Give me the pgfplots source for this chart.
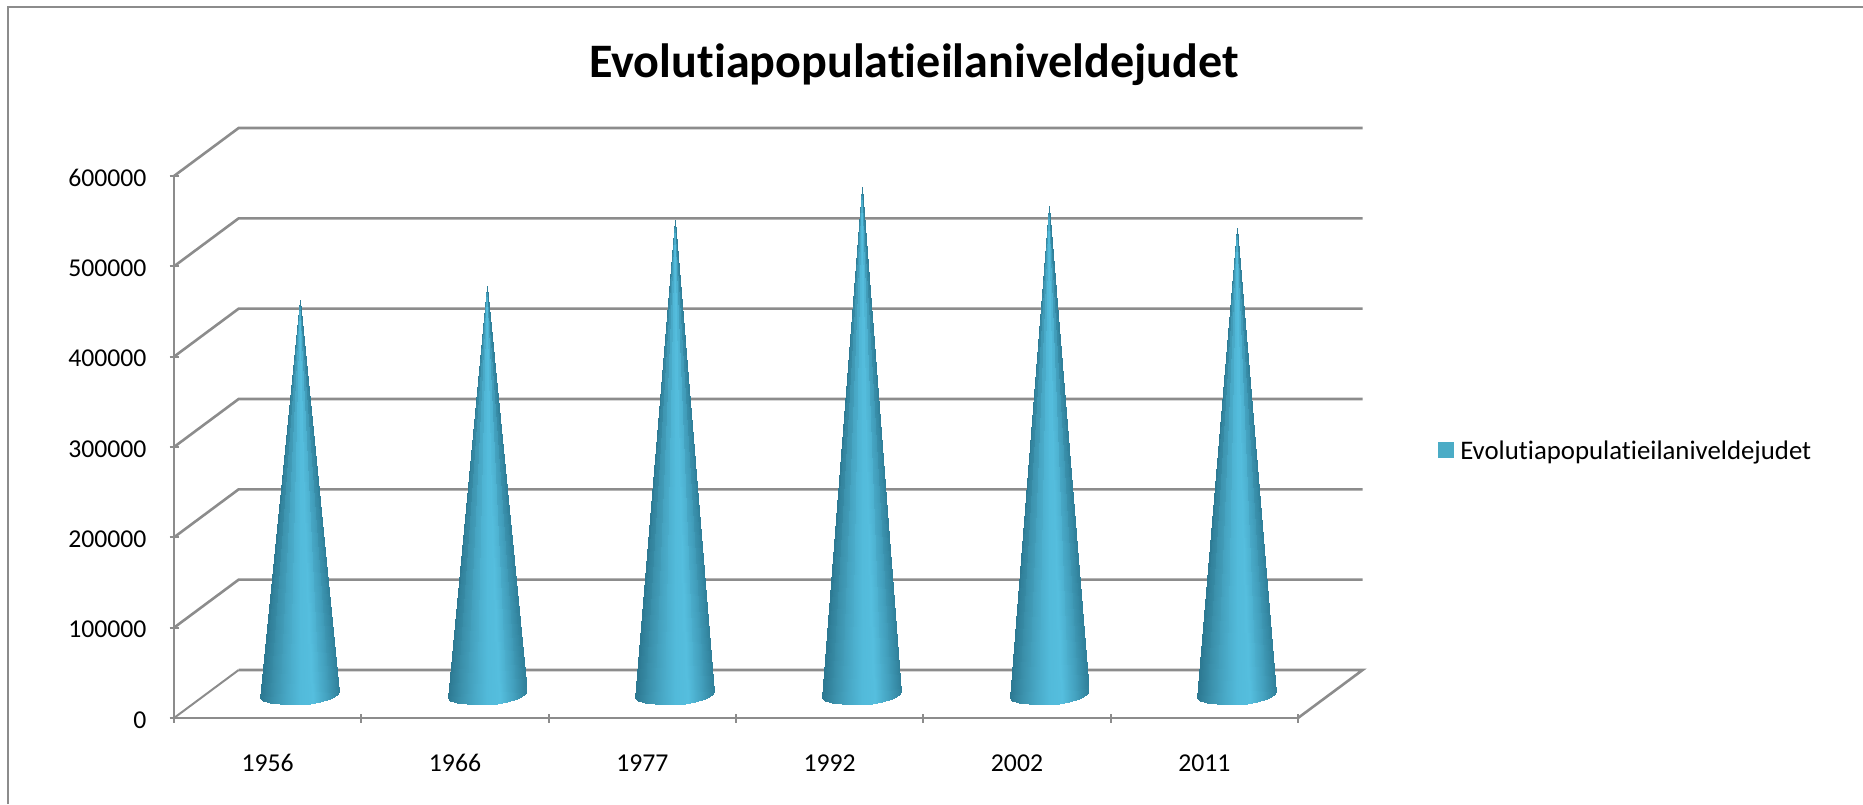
\documentclass[border=0pt]{standalone}
\usepackage{pgfplots}
\pgfplotsset{compat=1.18}
\usepackage{fontspec}
\setmainfont[Ligatures=NoCommon]{Carlito}
\definecolor{gridc}{RGB}{140,140,140}
\definecolor{legc}{RGB}{75,172,198}
\pgfplotsset{
  colormap={conemap}{rgb255=(44,120,145) rgb255=(60,146,173) rgb255=(72,168,198) rgb255=(82,186,218) rgb255=(85,190,222) rgb255=(68,162,192) rgb255=(48,128,154)},
  base/.style={scale only axis,width=562pt,height=271pt,xmin=0,xmax=6,ymin=0,ymax=600000,clip=false}
}
\begin{document}
\begin{tikzpicture}[x=1pt,y=1pt]
\path[use as bounding box] (0,0) rectangle (931.5,402);
\draw[gridc,line width=1pt] (4,0) -- (4,398.5) -- (931.5,398.5);
\node[font=\fontsize{24.05}{27}\selectfont\bfseries] at (457,369.5) {Evolutiapopulatieilaniveldejudet};
\begin{axis}[base,at={(87pt,43pt)},anchor=origin,
  axis x line=bottom,axis y line=left,
  axis line style={gridc,line width=1pt,-},
  tick style={gridc,line width=1pt},
  major tick length=4.5pt,
  minor tick length=4.5pt,
  xtick={0.5,1.5,2.5,3.5,4.5,5.5},
  xticklabels={1956,1966,1977,1992,2002,2011},
  minor xtick={0,1,2,3,4,5,6},
  major x tick style={draw=none},
  ytick={0,100000,200000,300000,400000,500000,600000},
  scaled y ticks=false,
  tick label style={font=\fontsize{12.85}{15}\selectfont},
  /pgf/number format/fixed,
  /pgf/number format/precision=0,
  /pgf/number format/1000 sep={},
  /pgf/number format/assume math mode=true,
  yticklabel style={xshift=-8pt,yshift=-1pt},
  xticklabel style={yshift=-12.5pt},
  legend style={at={(1.1246,0.4905)},anchor=west,draw=none,fill=none,font=\fontsize{13.4}{15}\selectfont,inner sep=0pt},
  legend image code/.code={\fill[legc] (0pt,-2.75pt) rectangle (7.5pt,4.75pt);},
  legend cell align=left,
]
\addlegendimage{legc}
\addlegendentry{\hspace{1pt}Evolutiapopulatieilaniveldejudet}
\addplot[gridc,line width=1.3pt,forget plot] coordinates {(0.345,53130)(6.345,53130)(6,0)};
\addplot[gridc,line width=1pt,forget plot] coordinates {(0,0)(0.345,53130)};
\addplot[gridc,line width=1.3pt,forget plot] coordinates {(0,100000)(0.345,153130)(6.345,153130)};
\addplot[gridc,line width=1.3pt,forget plot] coordinates {(0,200000)(0.345,253130)(6.345,253130)};
\addplot[gridc,line width=1.3pt,forget plot] coordinates {(0,300000)(0.345,353130)(6.345,353130)};
\addplot[gridc,line width=1.3pt,forget plot] coordinates {(0,400000)(0.345,453130)(6.345,453130)};
\addplot[gridc,line width=1.3pt,forget plot] coordinates {(0,500000)(0.345,553130)(6.345,553130)};
\addplot[gridc,line width=1.3pt,forget plot] coordinates {(0,600000)(0.345,653130)(6.345,653130)};
\end{axis}
\begin{axis}[base,at={(103.15pt,55pt)},anchor=origin,hide axis,colormap name=conemap,point meta min=0,point meta max=1]
\addplot[surf,shader=interp,mesh/rows=2,mesh/ordering=x varies,point meta=explicit] coordinates {
(0.5,436000)[0] (0.5,436000)[0.032] (0.5,436000)[0.12] (0.5,436000)[0.247] (0.5,436000)[0.373] (0.5,436000)[0.5] (0.5,436000)[0.627] (0.5,436000)[0.753] (0.5,436000)[0.88] (0.5,436000)[0.968] (0.5,436000)[1]

(0.2891,-4428)[0] (0.3025,-7195)[0.032] (0.3399,-9410)[0.12] (0.3932,-10517)[0.247] (0.4466,-11070)[0.373] (0.5,-11070)[0.5] (0.5534,-10517)[0.627] (0.6068,-8856)[0.753] (0.6601,-5535)[0.88] (0.6975,-1107)[0.968] (0.7109,2214)[1]
};
\addplot[surf,shader=interp,mesh/rows=2,mesh/ordering=x varies,point meta=explicit] coordinates {
(1.5,452000)[0] (1.5,452000)[0.032] (1.5,452000)[0.12] (1.5,452000)[0.247] (1.5,452000)[0.373] (1.5,452000)[0.5] (1.5,452000)[0.627] (1.5,452000)[0.753] (1.5,452000)[0.88] (1.5,452000)[0.968] (1.5,452000)[1]

(1.2891,-4428)[0] (1.3025,-7195)[0.032] (1.3399,-9410)[0.12] (1.3932,-10517)[0.247] (1.4466,-11070)[0.373] (1.5,-11070)[0.5] (1.5534,-10517)[0.627] (1.6068,-8856)[0.753] (1.6601,-5535)[0.88] (1.6975,-1107)[0.968] (1.7109,2214)[1]
};
\addplot[surf,shader=interp,mesh/rows=2,mesh/ordering=x varies,point meta=explicit] coordinates {
(2.5,525000)[0] (2.5,525000)[0.032] (2.5,525000)[0.12] (2.5,525000)[0.247] (2.5,525000)[0.373] (2.5,525000)[0.5] (2.5,525000)[0.627] (2.5,525000)[0.753] (2.5,525000)[0.88] (2.5,525000)[0.968] (2.5,525000)[1]

(2.2891,-4428)[0] (2.3025,-7195)[0.032] (2.3399,-9410)[0.12] (2.3932,-10517)[0.247] (2.4466,-11070)[0.373] (2.5,-11070)[0.5] (2.5534,-10517)[0.627] (2.6068,-8856)[0.753] (2.6601,-5535)[0.88] (2.6975,-1107)[0.968] (2.7109,2214)[1]
};
\addplot[surf,shader=interp,mesh/rows=2,mesh/ordering=x varies,point meta=explicit] coordinates {
(3.5,561000)[0] (3.5,561000)[0.032] (3.5,561000)[0.12] (3.5,561000)[0.247] (3.5,561000)[0.373] (3.5,561000)[0.5] (3.5,561000)[0.627] (3.5,561000)[0.753] (3.5,561000)[0.88] (3.5,561000)[0.968] (3.5,561000)[1]

(3.2891,-4428)[0] (3.3025,-7195)[0.032] (3.3399,-9410)[0.12] (3.3932,-10517)[0.247] (3.4466,-11070)[0.373] (3.5,-11070)[0.5] (3.5534,-10517)[0.627] (3.6068,-8856)[0.753] (3.6601,-5535)[0.88] (3.6975,-1107)[0.968] (3.7109,2214)[1]
};
\addplot[surf,shader=interp,mesh/rows=2,mesh/ordering=x varies,point meta=explicit] coordinates {
(4.5,540000)[0] (4.5,540000)[0.032] (4.5,540000)[0.12] (4.5,540000)[0.247] (4.5,540000)[0.373] (4.5,540000)[0.5] (4.5,540000)[0.627] (4.5,540000)[0.753] (4.5,540000)[0.88] (4.5,540000)[0.968] (4.5,540000)[1]

(4.2891,-4428)[0] (4.3025,-7195)[0.032] (4.3399,-9410)[0.12] (4.3932,-10517)[0.247] (4.4466,-11070)[0.373] (4.5,-11070)[0.5] (4.5534,-10517)[0.627] (4.6068,-8856)[0.753] (4.6601,-5535)[0.88] (4.6975,-1107)[0.968] (4.7109,2214)[1]
};
\addplot[surf,shader=interp,mesh/rows=2,mesh/ordering=x varies,point meta=explicit] coordinates {
(5.5,516000)[0] (5.5,516000)[0.032] (5.5,516000)[0.12] (5.5,516000)[0.247] (5.5,516000)[0.373] (5.5,516000)[0.5] (5.5,516000)[0.627] (5.5,516000)[0.753] (5.5,516000)[0.88] (5.5,516000)[0.968] (5.5,516000)[1]

(5.2891,-4428)[0] (5.3025,-7195)[0.032] (5.3399,-9410)[0.12] (5.3932,-10517)[0.247] (5.4466,-11070)[0.373] (5.5,-11070)[0.5] (5.5534,-10517)[0.627] (5.6068,-8856)[0.753] (5.6601,-5535)[0.88] (5.6975,-1107)[0.968] (5.7109,2214)[1]
};
\end{axis}
\end{tikzpicture}
\end{document}
